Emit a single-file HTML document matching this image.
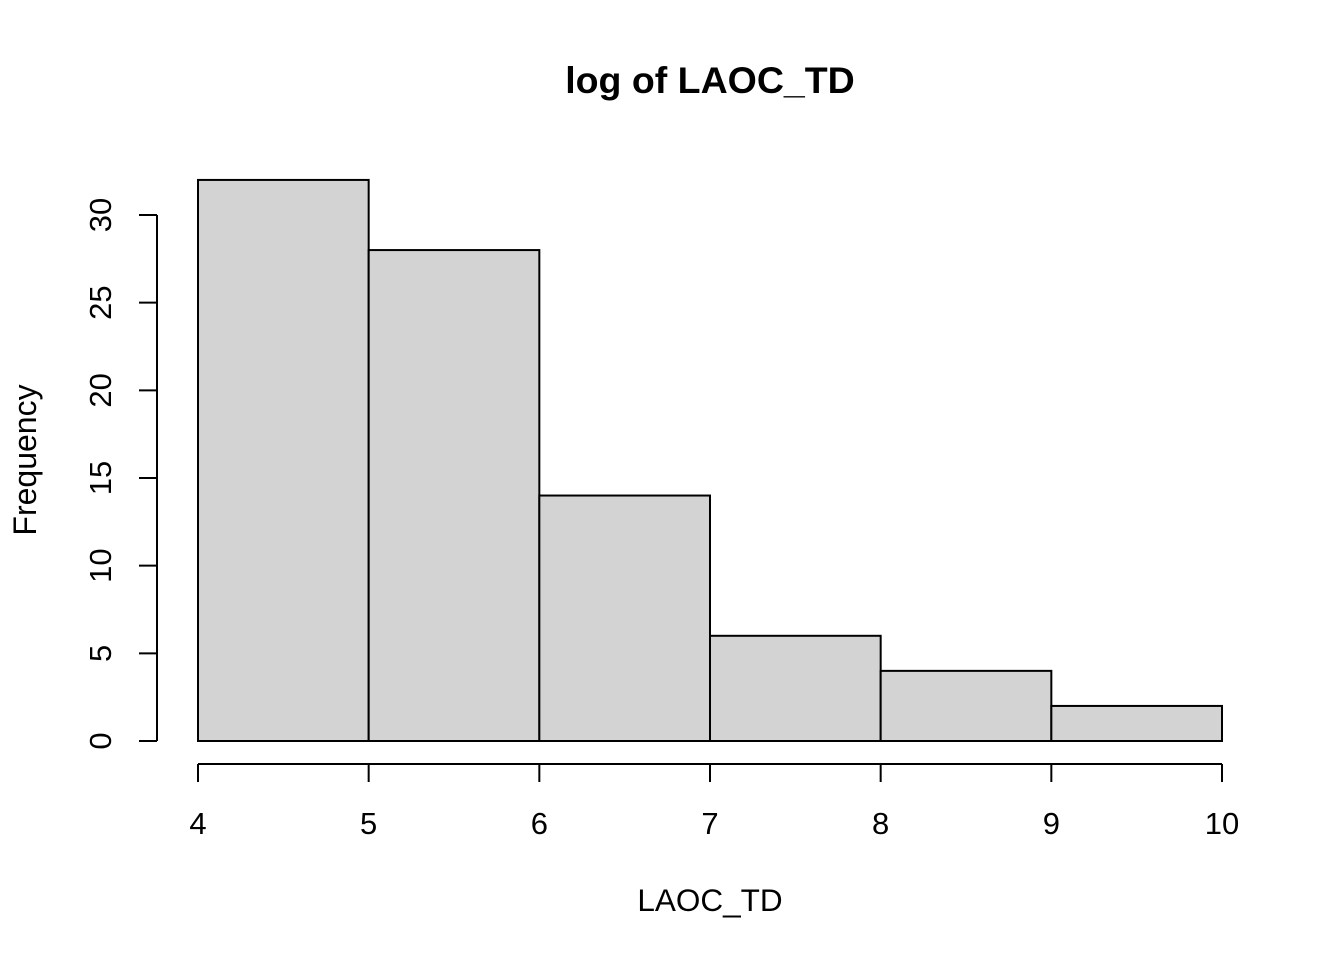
<!DOCTYPE html>
<html><head><meta charset="utf-8"><style>
html,body{margin:0;padding:0;background:#fff;}
svg{display:block;font-family:"Liberation Sans",Arial,sans-serif;}
</style></head><body>
<svg id="chart" width="1344" height="960" viewBox="0 0 1344 960">
<rect width="1344" height="960" fill="#fff"/>
<text x="710" y="93" text-anchor="middle" font-size="37.5" font-weight="bold">log of LAOC_TD</text>
<text x="710" y="911" text-anchor="middle" font-size="31.5">LAOC_TD</text>
<text transform="translate(36,460) rotate(-90)" text-anchor="middle" font-size="32">Frequency</text>
<g id="bars"></g><g id="xaxis"></g><g id="yaxis"></g>
</svg>
<script>
const breaks = [4,5,6,7,8,9,10];
const counts = [32,28,14,6,4,2];
const xTicks = [4,5,6,7,8,9,10];
const yTicks = [0,5,10,15,20,25,30];
const NS="http://www.w3.org/2000/svg";
const sx=v=>198+(v-4)*(1222-198)/6;
const sy=v=>741-v*(741-215)/30;
function mk(tag,attrs,parent){const e=document.createElementNS(NS,tag);for(const k in attrs)e.setAttribute(k,attrs[k]);parent.appendChild(e);return e;}
const bars=document.getElementById('bars');
counts.forEach((c,i)=>{
  const r=mk('rect',{x:sx(breaks[i]),y:sy(c),width:sx(breaks[i+1])-sx(breaks[i]),height:sy(0)-sy(c),fill:'#d3d3d3',stroke:'#000','stroke-width':2},bars);
  
  
});
const xa=document.getElementById('xaxis');


mk('line',{x1:sx(xTicks[0]),x2:sx(xTicks[xTicks.length-1]),y1:764,y2:764,stroke:'#000','stroke-width':2},xa);
xTicks.forEach(t=>{
  mk('line',{x1:sx(t),x2:sx(t),y1:764,y2:782,stroke:'#000','stroke-width':2},xa);
  const tx=mk('text',{x:sx(t),y:834,'text-anchor':'middle','font-size':31},xa);
  tx.textContent=t;
  
  
});
const ya=document.getElementById('yaxis');


mk('line',{x1:157,x2:157,y1:sy(yTicks[0]),y2:sy(yTicks[yTicks.length-1]),stroke:'#000','stroke-width':2},ya);
yTicks.forEach(t=>{
  mk('line',{x1:139,x2:157,y1:sy(t),y2:sy(t),stroke:'#000','stroke-width':2},ya);
  const tx=mk('text',{transform:`translate(111,${sy(t)}) rotate(-90)`,'text-anchor':'middle','font-size':31},ya);
  tx.textContent=t;
  
  
});
</script>
</body></html>
